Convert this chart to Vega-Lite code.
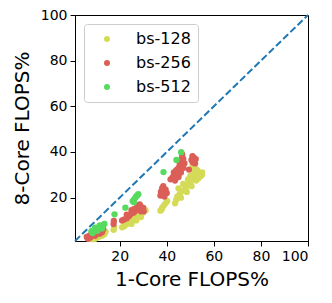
{
  "$schema": "https://vega.github.io/schema/vega-lite/v6.json",
  "width": 233,
  "height": 226,
  "padding": {"left": 12, "top": 8, "right": 5, "bottom": 5},
  "config": {
    "font": "DejaVu Sans",
    "view": {"stroke": "black", "strokeWidth": 1},
    "axis": {
      "grid": false,
      "domainColor": "black",
      "tickColor": "black",
      "labelColor": "black",
      "titleColor": "black",
      "labelFont": "DejaVu Sans",
      "titleFont": "DejaVu Sans",
      "labelFontSize": 14,
      "titleFontSize": 20,
      "titleFontWeight": "normal",
      "tickSize": 5,
      "labelPadding": 3,
      "domainWidth": 1
    }
  },
  "layer": [
    {
      "data": {"values": [{"one": 1, "eight": 1}, {"one": 100, "eight": 100}]},
      "mark": {"type": "line", "color": "#1f77b4", "strokeWidth": 2, "strokeDash": [7, 3]},
      "encoding": {
        "x": {"field": "one", "type": "quantitative"},
        "y": {"field": "eight", "type": "quantitative"}
      }
    },
    {
      "data": {"values": [
        {"bs": "bs-128", "one": 7, "eight": 2},
        {"bs": "bs-128", "one": 8, "eight": 2.3},
        {"bs": "bs-128", "one": 9, "eight": 2.8},
        {"bs": "bs-128", "one": 10, "eight": 3.2},
        {"bs": "bs-128", "one": 11, "eight": 3.6},
        {"bs": "bs-128", "one": 12, "eight": 4},
        {"bs": "bs-128", "one": 13, "eight": 4.5},
        {"bs": "bs-128", "one": 14, "eight": 5},
        {"bs": "bs-128", "one": 8.5, "eight": 1.8},
        {"bs": "bs-128", "one": 10.5, "eight": 2.5},
        {"bs": "bs-128", "one": 12.5, "eight": 3.3},
        {"bs": "bs-128", "one": 13.5, "eight": 4},
        {"bs": "bs-128", "one": 9.5, "eight": 2},
        {"bs": "bs-128", "one": 11.5, "eight": 3},
        {"bs": "bs-128", "one": 17.4, "eight": 5.9},
        {"bs": "bs-128", "one": 17.6, "eight": 6.8},
        {"bs": "bs-128", "one": 21, "eight": 7},
        {"bs": "bs-128", "one": 22, "eight": 7.5},
        {"bs": "bs-128", "one": 23, "eight": 8.5},
        {"bs": "bs-128", "one": 24, "eight": 9},
        {"bs": "bs-128", "one": 25, "eight": 9.5},
        {"bs": "bs-128", "one": 26, "eight": 10.5},
        {"bs": "bs-128", "one": 27, "eight": 11},
        {"bs": "bs-128", "one": 28, "eight": 11.5},
        {"bs": "bs-128", "one": 29, "eight": 12.5},
        {"bs": "bs-128", "one": 30, "eight": 13.5},
        {"bs": "bs-128", "one": 31, "eight": 14.5},
        {"bs": "bs-128", "one": 22, "eight": 9},
        {"bs": "bs-128", "one": 24, "eight": 10.5},
        {"bs": "bs-128", "one": 26, "eight": 12},
        {"bs": "bs-128", "one": 28, "eight": 13},
        {"bs": "bs-128", "one": 30, "eight": 15},
        {"bs": "bs-128", "one": 25, "eight": 8.5},
        {"bs": "bs-128", "one": 27, "eight": 10},
        {"bs": "bs-128", "one": 29, "eight": 11.5},
        {"bs": "bs-128", "one": 37.3, "eight": 14.3},
        {"bs": "bs-128", "one": 38, "eight": 15.5},
        {"bs": "bs-128", "one": 38.7, "eight": 16.5},
        {"bs": "bs-128", "one": 39.5, "eight": 17.5},
        {"bs": "bs-128", "one": 40.2, "eight": 18.5},
        {"bs": "bs-128", "one": 37.8, "eight": 14.8},
        {"bs": "bs-128", "one": 43.5, "eight": 17.5},
        {"bs": "bs-128", "one": 44, "eight": 19},
        {"bs": "bs-128", "one": 44.5, "eight": 20.5},
        {"bs": "bs-128", "one": 45.5, "eight": 21.5},
        {"bs": "bs-128", "one": 46, "eight": 20},
        {"bs": "bs-128", "one": 47, "eight": 23},
        {"bs": "bs-128", "one": 48, "eight": 24},
        {"bs": "bs-128", "one": 48.5, "eight": 22.5},
        {"bs": "bs-128", "one": 49, "eight": 25.5},
        {"bs": "bs-128", "one": 50, "eight": 26.5},
        {"bs": "bs-128", "one": 50.5, "eight": 25},
        {"bs": "bs-128", "one": 51, "eight": 28},
        {"bs": "bs-128", "one": 52, "eight": 29},
        {"bs": "bs-128", "one": 52.5, "eight": 27.5},
        {"bs": "bs-128", "one": 53, "eight": 30},
        {"bs": "bs-128", "one": 54, "eight": 30.5},
        {"bs": "bs-128", "one": 55, "eight": 31},
        {"bs": "bs-128", "one": 54.5, "eight": 29.5},
        {"bs": "bs-128", "one": 51.5, "eight": 31},
        {"bs": "bs-128", "one": 52, "eight": 33},
        {"bs": "bs-128", "one": 51, "eight": 34},
        {"bs": "bs-128", "one": 53, "eight": 32},
        {"bs": "bs-128", "one": 50, "eight": 29.5},
        {"bs": "bs-128", "one": 49, "eight": 28},
        {"bs": "bs-128", "one": 47, "eight": 26},
        {"bs": "bs-128", "one": 45, "eight": 24},
        {"bs": "bs-128", "one": 53.5, "eight": 28.5},
        {"bs": "bs-128", "one": 55, "eight": 30},
        {"bs": "bs-256", "one": 6, "eight": 2.8},
        {"bs": "bs-256", "one": 7, "eight": 3.2},
        {"bs": "bs-256", "one": 8, "eight": 3.5},
        {"bs": "bs-256", "one": 9, "eight": 4},
        {"bs": "bs-256", "one": 10, "eight": 4.5},
        {"bs": "bs-256", "one": 11, "eight": 5},
        {"bs": "bs-256", "one": 12, "eight": 5.5},
        {"bs": "bs-256", "one": 13, "eight": 6.2},
        {"bs": "bs-256", "one": 6.5, "eight": 2},
        {"bs": "bs-256", "one": 7.5, "eight": 2.5},
        {"bs": "bs-256", "one": 9.5, "eight": 3.3},
        {"bs": "bs-256", "one": 11.5, "eight": 4.2},
        {"bs": "bs-256", "one": 12.5, "eight": 4.8},
        {"bs": "bs-256", "one": 8, "eight": 4.3},
        {"bs": "bs-256", "one": 10, "eight": 5.3},
        {"bs": "bs-256", "one": 17.4, "eight": 8.4},
        {"bs": "bs-256", "one": 17.5, "eight": 9.8},
        {"bs": "bs-256", "one": 21, "eight": 10},
        {"bs": "bs-256", "one": 22, "eight": 10.5},
        {"bs": "bs-256", "one": 23, "eight": 11},
        {"bs": "bs-256", "one": 24, "eight": 12},
        {"bs": "bs-256", "one": 25, "eight": 13},
        {"bs": "bs-256", "one": 26, "eight": 13.5},
        {"bs": "bs-256", "one": 27, "eight": 14.5},
        {"bs": "bs-256", "one": 28, "eight": 15},
        {"bs": "bs-256", "one": 29, "eight": 16},
        {"bs": "bs-256", "one": 30, "eight": 15.5},
        {"bs": "bs-256", "one": 27.5, "eight": 16.5},
        {"bs": "bs-256", "one": 28.5, "eight": 17},
        {"bs": "bs-256", "one": 25, "eight": 14.5},
        {"bs": "bs-256", "one": 23, "eight": 12.5},
        {"bs": "bs-256", "one": 26, "eight": 15},
        {"bs": "bs-256", "one": 29, "eight": 14},
        {"bs": "bs-256", "one": 30.2, "eight": 14},
        {"bs": "bs-256", "one": 37.3, "eight": 20.9},
        {"bs": "bs-256", "one": 37.5, "eight": 22.5},
        {"bs": "bs-256", "one": 38, "eight": 24},
        {"bs": "bs-256", "one": 38.5, "eight": 25},
        {"bs": "bs-256", "one": 39.5, "eight": 23.5},
        {"bs": "bs-256", "one": 40, "eight": 22},
        {"bs": "bs-256", "one": 38.5, "eight": 21.5},
        {"bs": "bs-256", "one": 39, "eight": 20.5},
        {"bs": "bs-256", "one": 41.6, "eight": 28},
        {"bs": "bs-256", "one": 42.5, "eight": 29},
        {"bs": "bs-256", "one": 43, "eight": 31},
        {"bs": "bs-256", "one": 44, "eight": 32},
        {"bs": "bs-256", "one": 44.5, "eight": 30},
        {"bs": "bs-256", "one": 45, "eight": 33},
        {"bs": "bs-256", "one": 45.5, "eight": 35},
        {"bs": "bs-256", "one": 46, "eight": 36},
        {"bs": "bs-256", "one": 46.5, "eight": 38},
        {"bs": "bs-256", "one": 47, "eight": 37},
        {"bs": "bs-256", "one": 47.5, "eight": 35},
        {"bs": "bs-256", "one": 46, "eight": 31},
        {"bs": "bs-256", "one": 45, "eight": 29},
        {"bs": "bs-256", "one": 43.5, "eight": 27.5},
        {"bs": "bs-256", "one": 47, "eight": 33},
        {"bs": "bs-256", "one": 46.5, "eight": 39},
        {"bs": "bs-256", "one": 49.4, "eight": 32.3},
        {"bs": "bs-256", "one": 50.9, "eight": 38.2},
        {"bs": "bs-256", "one": 51.5, "eight": 37.5},
        {"bs": "bs-256", "one": 52.3, "eight": 36.9},
        {"bs": "bs-256", "one": 51, "eight": 35.5},
        {"bs": "bs-256", "one": 52, "eight": 35},
        {"bs": "bs-256", "one": 50.5, "eight": 36.5},
        {"bs": "bs-256", "one": 44, "eight": 30.5},
        {"bs": "bs-512", "one": 8, "eight": 5.3},
        {"bs": "bs-512", "one": 9, "eight": 5.8},
        {"bs": "bs-512", "one": 10, "eight": 6.3},
        {"bs": "bs-512", "one": 11, "eight": 7},
        {"bs": "bs-512", "one": 12, "eight": 7.5},
        {"bs": "bs-512", "one": 13, "eight": 8},
        {"bs": "bs-512", "one": 13.5, "eight": 8.5},
        {"bs": "bs-512", "one": 9.5, "eight": 6.8},
        {"bs": "bs-512", "one": 11.5, "eight": 7.8},
        {"bs": "bs-512", "one": 8.5, "eight": 4.5},
        {"bs": "bs-512", "one": 10.5, "eight": 5.5},
        {"bs": "bs-512", "one": 12.5, "eight": 6.5},
        {"bs": "bs-512", "one": 17.8, "eight": 12.7},
        {"bs": "bs-512", "one": 22.4, "eight": 15.6},
        {"bs": "bs-512", "one": 25.5, "eight": 18.5},
        {"bs": "bs-512", "one": 26, "eight": 19},
        {"bs": "bs-512", "one": 26.5, "eight": 19.8},
        {"bs": "bs-512", "one": 27, "eight": 20.5},
        {"bs": "bs-512", "one": 27.5, "eight": 21},
        {"bs": "bs-512", "one": 27.9, "eight": 21.5},
        {"bs": "bs-512", "one": 26, "eight": 18},
        {"bs": "bs-512", "one": 38.6, "eight": 31.2},
        {"bs": "bs-512", "one": 44.1, "eight": 36.5},
        {"bs": "bs-512", "one": 46.1, "eight": 39.9}
      ]},
      "mark": {"type": "point", "filled": true, "opacity": 1, "size": 40},
      "encoding": {
        "x": {
          "field": "one", "type": "quantitative",
          "scale": {"domain": [1, 100], "nice": false, "zero": false},
          "axis": {"values": [20, 40, 60, 80, 100], "title": "1-Core FLOPS%", "titlePadding": 6}
        },
        "y": {
          "field": "eight", "type": "quantitative",
          "scale": {"domain": [1, 100], "nice": false, "zero": false},
          "axis": {"values": [20, 40, 60, 80, 100], "title": "8-Core FLOPS%", "titlePadding": 8}
        },
        "color": {
          "field": "bs", "type": "nominal",
          "scale": {"domain": ["bs-128", "bs-256", "bs-512"], "range": ["#d4db57", "#db5f57", "#57db5f"]},
          "legend": {
            "title": null,
            "orient": "none",
            "legendX": 9,
            "legendY": 9,
            "labelFontSize": 16,
            "labelFont": "DejaVu Sans",
            "labelColor": "black",
            "symbolSize": 36,
            "symbolType": "circle",
            "symbolOffset": 8,
            "labelOffset": 21,
            "rowPadding": 8,
            "padding": 7,
            "strokeColor": "#cccccc",
            "fillColor": "rgba(255,255,255,0.8)",
            "cornerRadius": 3
          }
        }
      }
    }
  ]
}
